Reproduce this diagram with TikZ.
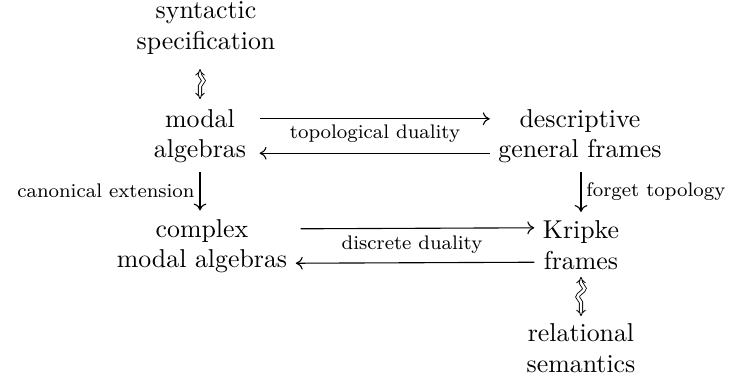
\documentclass[tikz,border=0pt]{standalone}
\usetikzlibrary{decorations.pathmorphing,arrows.meta}
\begin{document}
\begin{tikzpicture}[x=0.4065pt,y=-0.4065pt,
  obj/.style={align=center,font=\fontsize{10.5}{12.4}\selectfont,inner sep=3.33pt},
  lab/.style={font=\footnotesize,inner sep=2pt},
  arr/.style={-{To[length=2.8pt,width=5.2pt]},line width=0.45pt},
  squig/.style={double,double distance=1pt,line width=0.35pt,decorate,
    decoration={snake,amplitude=1.4pt,segment length=7pt,pre length=2.5pt,post length=2.5pt},
    {Implies}-{Implies}}]
\useasboundingbox (0,0) rectangle (732,381);
\node[obj] (ss) at (206,28) {syntactic\\specification};
\node[obj] (ma) at (200,136) {modal\\algebras};
\node[obj] (dg) at (580,136) {descriptive\\general frames};
\node[obj] (cm) at (202,246) {complex\\modal algebras};
\node[obj] (kf) at (581,245) {Kripke\\frames};
\node[obj] (rs) at (581,348) {relational\\semantics};
% squiggly
\draw[squig] ([yshift=-2.5pt]ma.north |- ss.south) -- ([yshift=0.5pt]ma.north);
\draw[squig] ([yshift=0.5pt]kf.south) -- ([yshift=-0.5pt]rs.north);
% top pair
\draw[arr] ([yshift=7pt,xshift=2pt]ma.east) -- ([yshift=7pt]dg.west);
\draw[arr] ([yshift=-7pt]dg.west) -- ([yshift=-7pt,xshift=2pt]ma.east);
\node[lab] (td) at (375,134) {topological duality};
% bottom pair
\draw[arr] ([yshift=7pt,xshift=2pt]cm.east) -- ([yshift=7pt]kf.west);
\draw[arr] ([yshift=-7pt]kf.west) -- ([yshift=-7pt]cm.east);
\node[lab] (dd) at (412,245) {discrete duality};
% verticals
\draw[arr] (ma.south) -- (ma.south |- cm.north) node[lab,midway,left] (ce) {canonical extension};
\draw[arr] (dg.south -| kf.north) -- (kf.north) node[lab,midway,right] (ft) {forget topology};
\end{tikzpicture}
\end{document}
